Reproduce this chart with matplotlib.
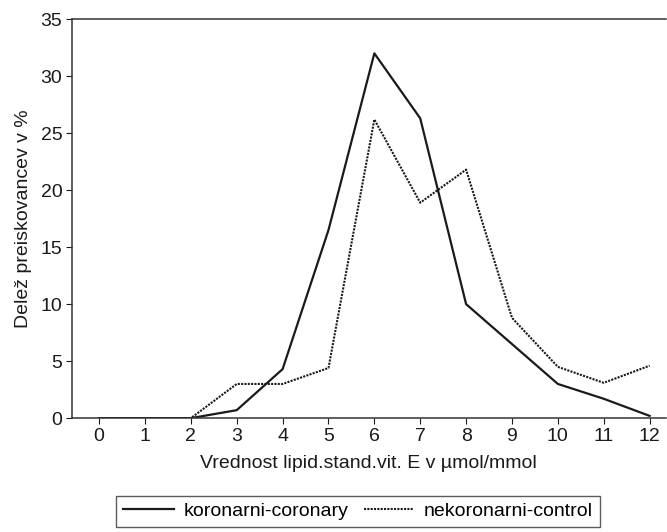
import numpy as np
import matplotlib.pyplot as plt

plt.rcParams['font.family'] = ['Liberation Sans', 'DejaVu Sans']

x = list(range(13))
koronarni = [0, 0, 0, 0.7, 4.3, 16.5, 32.0, 26.3, 10.0, 6.5, 3.0, 1.7, 0.2]
nekoronarni = [0, 0, 0, 3.0, 3.0, 4.4, 26.2, 18.9, 21.8, 8.8, 4.5, 3.1, 4.6]

fig = plt.figure(figsize=(6.67, 5.32), dpi=100)
ax = fig.add_axes([0.108, 0.214, 0.89, 0.75])

ax.plot(x, koronarni, color="#1a1a1a", lw=1.6, label="koronarni-coronary")
ax.plot(x, nekoronarni, color="#1a1a1a", lw=1.5, ls=(0, (1, 0.6)), label="nekoronarni-control")

ax.set_xlim(-0.59, 12.35)
ax.set_ylim(0, 35)
ax.set_xticks(x)
ax.set_yticks(range(0, 36, 5))
ax.tick_params(axis='both', labelsize=14, length=4, width=0.8, colors="#1a1a1a", pad=3)
ax.spines['right'].set_visible(False)
for s in ['left', 'top', 'bottom']:
    ax.spines[s].set_color("#333333")
    ax.spines[s].set_linewidth(1.1)

ax.set_xlabel("Vrednost lipid.stand.vit. E v µmol/mmol", fontsize=14, color="#1a1a1a", labelpad=7)
ax.set_ylabel("Delež preiskovancev v %", fontsize=14, color="#1a1a1a", labelpad=6)

leg = fig.legend(loc='upper center', bbox_to_anchor=(0.537, 0.068), ncol=2, fontsize=14,
                 frameon=True, fancybox=False, edgecolor="#333333", handlelength=2.6,
                 columnspacing=0.8, handletextpad=0.5, borderpad=0.35, borderaxespad=0)
leg.get_frame().set_linewidth(1.0)

fig.savefig("out.png", dpi=100)
